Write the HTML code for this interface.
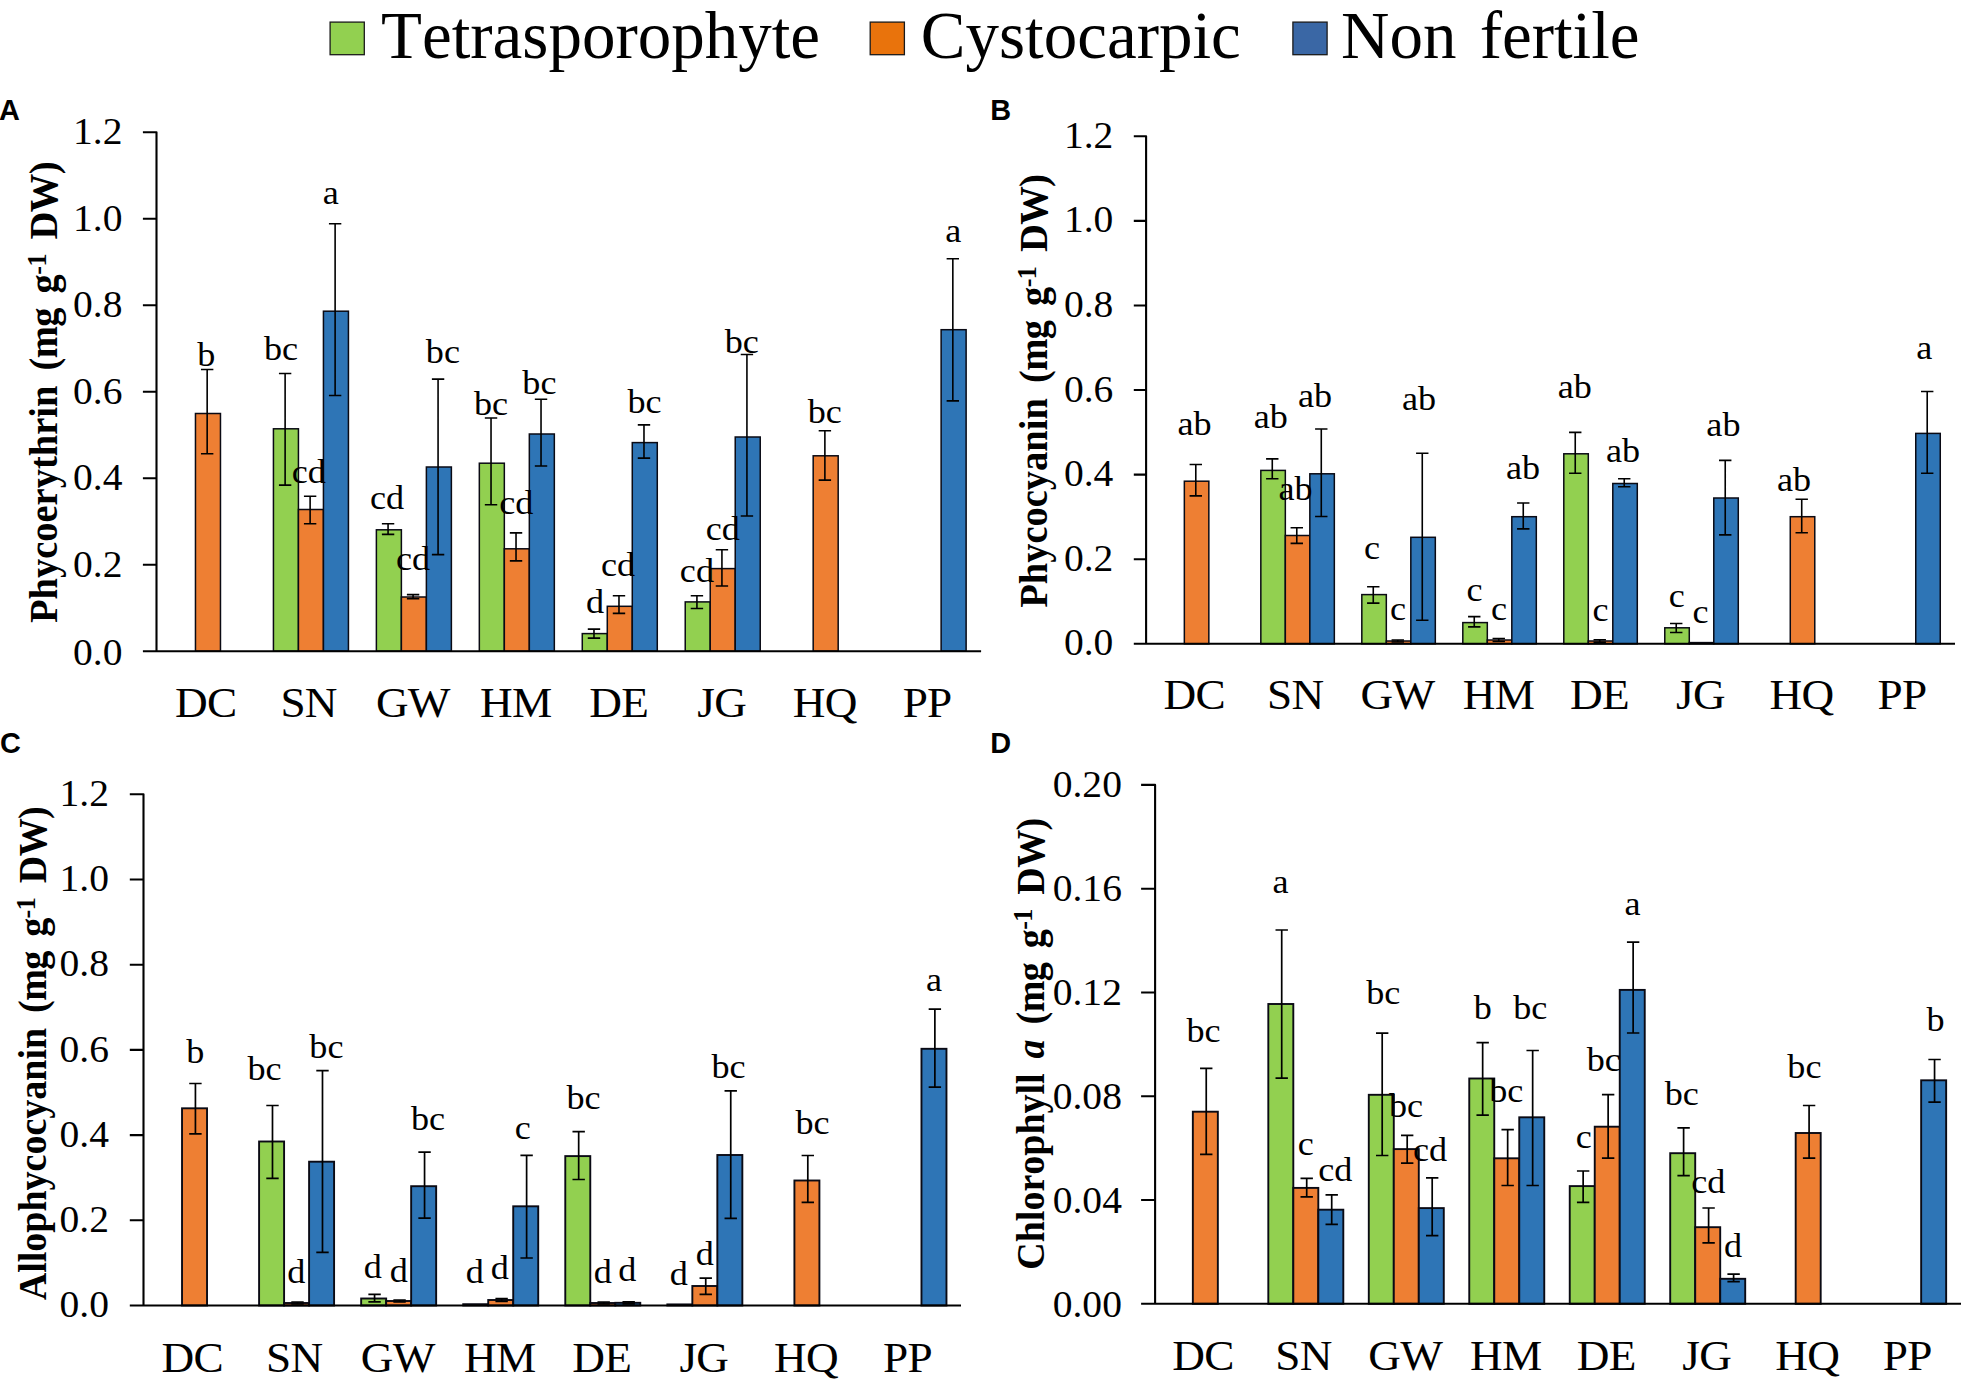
<!DOCTYPE html>
<html lang="en"><head><meta charset="utf-8"><title>Pigment content figure</title>
<style>
html,body{margin:0;padding:0;background:#fff;}
body{width:1961px;height:1394px;overflow:hidden;}
svg{display:block;}
text{fill:#000;font-kerning:none;}
.bar{stroke:#0a0a14;stroke-width:var(--bsw);}
.err{stroke:#000;stroke-width:var(--esw);fill:none;}
.ax{stroke:#000;stroke-width:2.1;fill:none;stroke-linejoin:round;}
.tk{font-family:'Liberation Serif','Times New Roman',serif;font-size:37.3px;text-anchor:end;}
.cat{font-family:'Liberation Serif','Times New Roman',serif;font-size:42.3px;text-anchor:middle;letter-spacing:-0.65px;}
.lt{font-family:'Liberation Serif','Times New Roman',serif;font-size:33.8px;text-anchor:middle;}
.yt{font-family:'Liberation Serif','Times New Roman',serif;font-size:38.5px;font-weight:bold;text-anchor:middle;word-spacing:5.5px;}
.pl{font-family:'Liberation Sans',Arial,sans-serif;font-size:28.9px;font-weight:bold;}
.lg{font-family:'Liberation Serif','Times New Roman',serif;font-size:67px;word-spacing:6.5px;}
.sup{font-size:26.18px;}
</style></head><body>
<svg width="1961" height="1394" viewBox="0 0 1961 1394">
<rect x="0" y="0" width="1961" height="1394" fill="#fff"/>
<g class="legend">
<rect x="330.1" y="22.1" width="34.2" height="32.6" fill="#92d050" stroke="#1a1a1a" stroke-width="1.3"/>
<text class="lg" x="381" y="58.4">Tetrasporophyte</text>
<rect x="870.2" y="22.1" width="34.2" height="32.6" fill="#e9730c" stroke="#1a1a1a" stroke-width="1.3"/>
<text class="lg" x="920.8" y="58.4">Cystocarpic</text>
<rect x="1292.9" y="22.1" width="34.2" height="32.6" fill="#3a67a5" stroke="#1a1a1a" stroke-width="1.3"/>
<text class="lg" x="1341" y="58.4">Non fertile</text>
</g>
<g class="panel" style="--bsw:1.5;--esw:1.6">
<rect class="bar" x="195.47" y="413.5" width="25" height="237.7" fill="#ee7f33"/>
<rect class="bar" x="273.43" y="428.8" width="25" height="222.4" fill="#92d050"/>
<rect class="bar" x="298.43" y="509.5" width="25" height="141.7" fill="#ee7f33"/>
<rect class="bar" x="323.43" y="311.2" width="25" height="340" fill="#2e75b6"/>
<rect class="bar" x="376.38" y="529.8" width="25" height="121.4" fill="#92d050"/>
<rect class="bar" x="401.38" y="597" width="25" height="54.2" fill="#ee7f33"/>
<rect class="bar" x="426.38" y="467" width="25" height="184.2" fill="#2e75b6"/>
<rect class="bar" x="479.33" y="463.2" width="25" height="188" fill="#92d050"/>
<rect class="bar" x="504.33" y="548.8" width="25" height="102.4" fill="#ee7f33"/>
<rect class="bar" x="529.33" y="434" width="25" height="217.2" fill="#2e75b6"/>
<rect class="bar" x="582.28" y="633.6" width="25" height="17.6" fill="#92d050"/>
<rect class="bar" x="607.28" y="606.3" width="25" height="44.9" fill="#ee7f33"/>
<rect class="bar" x="632.28" y="442.6" width="25" height="208.6" fill="#2e75b6"/>
<rect class="bar" x="685.23" y="601.9" width="25" height="49.3" fill="#92d050"/>
<rect class="bar" x="710.23" y="568.6" width="25" height="82.6" fill="#ee7f33"/>
<rect class="bar" x="735.23" y="437" width="25" height="214.2" fill="#2e75b6"/>
<rect class="bar" x="813.18" y="455.8" width="25" height="195.4" fill="#ee7f33"/>
<rect class="bar" x="941.12" y="329.7" width="25" height="321.5" fill="#2e75b6"/>
<path class="err" d="M207.17 369.5V453.7M200.97 369.5H213.37M200.97 453.7H213.37M285.12 373.5V485.1M278.93 373.5H291.32M278.93 485.1H291.32M310.12 496.3V523.7M303.93 496.3H316.32M303.93 523.7H316.32M335.12 223.7V395.5M328.93 223.7H341.32M328.93 395.5H341.32M388.07 523.7V534.4M381.88 523.7H394.27M381.88 534.4H394.27M413.07 594.6V598.8M406.88 594.6H419.27M406.88 598.8H419.27M438.07 379.1V554.6M431.88 379.1H444.27M431.88 554.6H444.27M491.03 418V504.8M484.83 418H497.23M484.83 504.8H497.23M516.03 532.9V560.9M509.83 532.9H522.23M509.83 560.9H522.23M541.03 399.3V466M534.83 399.3H547.23M534.83 466H547.23M593.98 629.1V638.1M587.78 629.1H600.18M587.78 638.1H600.18M618.98 595.7V613.4M612.78 595.7H625.18M612.78 613.4H625.18M643.98 424.9V458.1M637.78 424.9H650.18M637.78 458.1H650.18M696.93 595.7V608.5M690.73 595.7H703.13M690.73 608.5H703.13M721.93 549.7V586M715.73 549.7H728.13M715.73 586H728.13M746.93 354.5V516M740.73 354.5H753.13M740.73 516H753.13M824.88 430.8V480.1M818.68 430.8H831.08M818.68 480.1H831.08M952.83 258.7V400.9M946.62 258.7H959.03M946.62 400.9H959.03"/>
<path class="ax" d="M142.9 132.2H156.5V651.2H981.1M142.9 651.2H156.5M142.9 218.7H156.5M142.9 305.2H156.5M142.9 391.7H156.5M142.9 478.2H156.5M142.9 564.7H156.5"/>
<text class="tk" transform="translate(122.4 144) scale(1.060 1)">1.2</text>
<text class="tk" transform="translate(122.4 230.5) scale(1.060 1)">1.0</text>
<text class="tk" transform="translate(122.4 317) scale(1.060 1)">0.8</text>
<text class="tk" transform="translate(122.4 403.5) scale(1.060 1)">0.6</text>
<text class="tk" transform="translate(122.4 490) scale(1.060 1)">0.4</text>
<text class="tk" transform="translate(122.4 576.5) scale(1.060 1)">0.2</text>
<text class="tk" transform="translate(122.4 664.7) scale(1.060 1)">0.0</text>
<text class="cat" transform="translate(205.67 716.8) scale(1.070 1)">DC</text>
<text class="cat" transform="translate(308.62 716.8) scale(1.070 1)">SN</text>
<text class="cat" transform="translate(412.88 716.8) scale(1.070 1)">GW</text>
<text class="cat" transform="translate(515.83 716.8) scale(1.070 1)">HM</text>
<text class="cat" transform="translate(618.78 716.8) scale(1.070 1)">DE</text>
<text class="cat" transform="translate(721.73 716.8) scale(1.070 1)">JG</text>
<text class="cat" transform="translate(824.68 716.8) scale(1.070 1)">HQ</text>
<text class="cat" transform="translate(927.12 716.8) scale(1.070 1)">PP</text>
<text class="lt" transform="translate(206.4 366.2) scale(1.070 1)">b</text>
<text class="lt" transform="translate(281.1 359.6) scale(1.070 1)">bc</text>
<text class="lt" transform="translate(330.7 204.1) scale(1.070 1)">a</text>
<text class="lt" transform="translate(442.9 363.3) scale(1.070 1)">bc</text>
<text class="lt" transform="translate(491.1 414.9) scale(1.070 1)">bc</text>
<text class="lt" transform="translate(539.4 394.2) scale(1.070 1)">bc</text>
<text class="lt" transform="translate(308.7 482.8) scale(1.070 1)">cd</text>
<text class="lt" transform="translate(387 508.6) scale(1.070 1)">cd</text>
<text class="lt" transform="translate(413 569.9) scale(1.070 1)">cd</text>
<text class="lt" transform="translate(516.3 514.2) scale(1.070 1)">cd</text>
<text class="lt" transform="translate(644.6 412.8) scale(1.070 1)">bc</text>
<text class="lt" transform="translate(741.7 353.3) scale(1.070 1)">bc</text>
<text class="lt" transform="translate(824.8 422.9) scale(1.070 1)">bc</text>
<text class="lt" transform="translate(953.3 242.3) scale(1.070 1)">a</text>
<text class="lt" transform="translate(595 612.5) scale(1.070 1)">d</text>
<text class="lt" transform="translate(618.1 575.9) scale(1.070 1)">cd</text>
<text class="lt" transform="translate(696.9 581.5) scale(1.070 1)">cd</text>
<text class="lt" transform="translate(722.7 540) scale(1.070 1)">cd</text>
<text class="yt" transform="translate(57.2 392.5) rotate(-90) scale(1 1.040)">Phycoerythrin <tspan letter-spacing="-0.55">(mg g<tspan class="sup" dy="-11">-1</tspan><tspan dy="11"> DW)</tspan></tspan></text>
<text class="pl" x="-0.9" y="120.3">A</text>
</g>
<g class="panel" style="--bsw:1.5;--esw:1.6">
<rect class="bar" x="1184.34" y="481.2" width="24.5" height="162.6" fill="#ee7f33"/>
<rect class="bar" x="1260.83" y="470.4" width="24.5" height="173.4" fill="#92d050"/>
<rect class="bar" x="1285.33" y="535.5" width="24.5" height="108.3" fill="#ee7f33"/>
<rect class="bar" x="1309.83" y="473.8" width="24.5" height="170" fill="#2e75b6"/>
<rect class="bar" x="1361.82" y="594.6" width="24.5" height="49.2" fill="#92d050"/>
<rect class="bar" x="1386.32" y="641" width="24.5" height="2.8" fill="#ee7f33"/>
<rect class="bar" x="1410.82" y="537.3" width="24.5" height="106.5" fill="#2e75b6"/>
<rect class="bar" x="1462.81" y="622.6" width="24.5" height="21.2" fill="#92d050"/>
<rect class="bar" x="1487.31" y="640" width="24.5" height="3.8" fill="#ee7f33"/>
<rect class="bar" x="1511.81" y="516.7" width="24.5" height="127.1" fill="#2e75b6"/>
<rect class="bar" x="1563.79" y="453.8" width="24.5" height="190" fill="#92d050"/>
<rect class="bar" x="1588.29" y="641" width="24.5" height="2.8" fill="#ee7f33"/>
<rect class="bar" x="1612.79" y="483.5" width="24.5" height="160.3" fill="#2e75b6"/>
<rect class="bar" x="1664.78" y="627.8" width="24.5" height="16" fill="#92d050"/>
<rect class="bar" x="1689.28" y="642.6" width="24.5" height="1.2" fill="#ee7f33"/>
<rect class="bar" x="1713.78" y="498" width="24.5" height="145.8" fill="#2e75b6"/>
<rect class="bar" x="1790.27" y="516.7" width="24.5" height="127.1" fill="#ee7f33"/>
<rect class="bar" x="1915.76" y="433.4" width="24.5" height="210.4" fill="#2e75b6"/>
<path class="err" d="M1195.79 464.5V495.9M1189.59 464.5H1201.99M1189.59 495.9H1201.99M1272.28 458.9V478.8M1266.08 458.9H1278.48M1266.08 478.8H1278.48M1296.78 527.7V543.4M1290.58 527.7H1302.98M1290.58 543.4H1302.98M1321.28 429V516.5M1315.08 429H1327.48M1315.08 516.5H1327.48M1373.27 586.8V603.1M1367.07 586.8H1379.47M1367.07 603.1H1379.47M1397.77 640V642M1391.57 640H1403.97M1391.57 642H1403.97M1422.27 453.2V620.2M1416.07 453.2H1428.47M1416.07 620.2H1428.47M1474.26 616.6V626.9M1468.06 616.6H1480.46M1468.06 626.9H1480.46M1498.76 638.5V641.5M1492.56 638.5H1504.96M1492.56 641.5H1504.96M1523.26 503V528.9M1517.06 503H1529.46M1517.06 528.9H1529.46M1575.24 432.4V473.2M1569.04 432.4H1581.44M1569.04 473.2H1581.44M1599.74 639.8V642.2M1593.54 639.8H1605.94M1593.54 642.2H1605.94M1624.24 478.8V486.7M1618.04 478.8H1630.44M1618.04 486.7H1630.44M1676.23 623.5V632.5M1670.03 623.5H1682.43M1670.03 632.5H1682.43M1725.23 460.4V534.9M1719.03 460.4H1731.43M1719.03 534.9H1731.43M1801.72 499.2V532.7M1795.52 499.2H1807.92M1795.52 532.7H1807.92M1927.21 391.5V473.2M1921.01 391.5H1933.41M1921.01 473.2H1933.41"/>
<path class="ax" d="M1133.8 136.3H1146.1V643.8H1955M1133.8 643.8H1146.1M1133.8 220.88H1146.1M1133.8 305.46H1146.1M1133.8 390.04H1146.1M1133.8 474.62H1146.1M1133.8 559.2H1146.1"/>
<text class="tk" transform="translate(1113.3 147.9) scale(1.060 1)">1.2</text>
<text class="tk" transform="translate(1113.3 232.48) scale(1.060 1)">1.0</text>
<text class="tk" transform="translate(1113.3 317.06) scale(1.060 1)">0.8</text>
<text class="tk" transform="translate(1113.3 401.64) scale(1.060 1)">0.6</text>
<text class="tk" transform="translate(1113.3 486.22) scale(1.060 1)">0.4</text>
<text class="tk" transform="translate(1113.3 570.8) scale(1.060 1)">0.2</text>
<text class="tk" transform="translate(1113.3 655.38) scale(1.060 1)">0.0</text>
<text class="cat" transform="translate(1194.29 709.4) scale(1.070 1)">DC</text>
<text class="cat" transform="translate(1295.28 709.4) scale(1.070 1)">SN</text>
<text class="cat" transform="translate(1397.57 709.4) scale(1.070 1)">GW</text>
<text class="cat" transform="translate(1498.56 709.4) scale(1.070 1)">HM</text>
<text class="cat" transform="translate(1599.54 709.4) scale(1.070 1)">DE</text>
<text class="cat" transform="translate(1700.53 709.4) scale(1.070 1)">JG</text>
<text class="cat" transform="translate(1801.52 709.4) scale(1.070 1)">HQ</text>
<text class="cat" transform="translate(1902.01 709.4) scale(1.070 1)">PP</text>
<text class="lt" transform="translate(1194.6 435.3) scale(1.070 1)">ab</text>
<text class="lt" transform="translate(1270.7 427.9) scale(1.070 1)">ab</text>
<text class="lt" transform="translate(1315.1 407) scale(1.070 1)">ab</text>
<text class="lt" transform="translate(1295.6 499.7) scale(1.070 1)">ab</text>
<text class="lt" transform="translate(1419 410.4) scale(1.070 1)">ab</text>
<text class="lt" transform="translate(1371.9 558.5) scale(1.070 1)">c</text>
<text class="lt" transform="translate(1523.1 479) scale(1.070 1)">ab</text>
<text class="lt" transform="translate(1474.6 600.7) scale(1.070 1)">c</text>
<text class="lt" transform="translate(1397.9 619.5) scale(1.070 1)">c</text>
<text class="lt" transform="translate(1498.9 619.5) scale(1.070 1)">c</text>
<text class="lt" transform="translate(1574.8 397.6) scale(1.070 1)">ab</text>
<text class="lt" transform="translate(1623.1 462) scale(1.070 1)">ab</text>
<text class="lt" transform="translate(1723.4 436.2) scale(1.070 1)">ab</text>
<text class="lt" transform="translate(1794.1 490.7) scale(1.070 1)">ab</text>
<text class="lt" transform="translate(1924.2 358.8) scale(1.070 1)">a</text>
<text class="lt" transform="translate(1600.4 620.6) scale(1.070 1)">c</text>
<text class="lt" transform="translate(1676.7 606.5) scale(1.070 1)">c</text>
<text class="lt" transform="translate(1700.5 622.9) scale(1.070 1)">c</text>
<text class="yt" transform="translate(1047.3 391.2) rotate(-90) scale(1 1.040)">Phycocyanin <tspan letter-spacing="-0.55">(mg g<tspan class="sup" dy="-11">-1</tspan><tspan dy="11"> DW)</tspan></tspan></text>
<text class="pl" x="990.3" y="120.3">B</text>
</g>
<g class="panel" style="--bsw:1.9;--esw:1.7">
<rect class="bar" x="182.03" y="1108.3" width="25" height="197.2" fill="#ee7f33"/>
<rect class="bar" x="259.09" y="1141.5" width="25" height="164" fill="#92d050"/>
<rect class="bar" x="284.09" y="1303" width="25" height="2.5" fill="#ee7f33"/>
<rect class="bar" x="309.09" y="1161.7" width="25" height="143.8" fill="#2e75b6"/>
<rect class="bar" x="361.16" y="1298.5" width="25" height="7" fill="#92d050"/>
<rect class="bar" x="386.16" y="1301" width="25" height="4.5" fill="#ee7f33"/>
<rect class="bar" x="411.16" y="1186.2" width="25" height="119.3" fill="#2e75b6"/>
<rect class="bar" x="463.22" y="1304.2" width="25" height="1.3" fill="#92d050"/>
<rect class="bar" x="488.22" y="1300" width="25" height="5.5" fill="#ee7f33"/>
<rect class="bar" x="513.22" y="1206.3" width="25" height="99.2" fill="#2e75b6"/>
<rect class="bar" x="565.28" y="1156.1" width="25" height="149.4" fill="#92d050"/>
<rect class="bar" x="590.28" y="1303" width="25" height="2.5" fill="#ee7f33"/>
<rect class="bar" x="615.28" y="1302.8" width="25" height="2.7" fill="#2e75b6"/>
<rect class="bar" x="667.34" y="1304.4" width="25" height="1.1" fill="#92d050"/>
<rect class="bar" x="692.34" y="1286" width="25" height="19.5" fill="#ee7f33"/>
<rect class="bar" x="717.34" y="1155" width="25" height="150.5" fill="#2e75b6"/>
<rect class="bar" x="794.41" y="1180.5" width="25" height="125" fill="#ee7f33"/>
<rect class="bar" x="921.47" y="1048.8" width="25" height="256.7" fill="#2e75b6"/>
<path class="err" d="M195.43 1083.5V1133.9M189.23 1083.5H201.63M189.23 1133.9H201.63M272.49 1105.5V1178.4M266.29 1105.5H278.69M266.29 1178.4H278.69M297.49 1302V1304M291.29 1302H303.69M291.29 1304H303.69M322.49 1070.7V1252.4M316.29 1070.7H328.69M316.29 1252.4H328.69M374.56 1294.4V1301.8M368.36 1294.4H380.76M368.36 1301.8H380.76M399.56 1300V1302M393.36 1300H405.76M393.36 1302H405.76M424.56 1152.1V1218.1M418.36 1152.1H430.76M418.36 1218.1H430.76M501.62 1298.6V1301.4M495.42 1298.6H507.82M495.42 1301.4H507.82M526.62 1155.3V1258M520.42 1155.3H532.82M520.42 1258H532.82M578.68 1131.7V1179.5M572.48 1131.7H584.88M572.48 1179.5H584.88M603.68 1302V1304M597.48 1302H609.88M597.48 1304H609.88M628.68 1301.8V1303.8M622.48 1301.8H634.88M622.48 1303.8H634.88M705.74 1278.2V1294.4M699.54 1278.2H711.94M699.54 1294.4H711.94M730.74 1090.9V1218.3M724.54 1090.9H736.94M724.54 1218.3H736.94M807.81 1155.5V1202.4M801.61 1155.5H814.01M801.61 1202.4H814.01M934.87 1009.2V1087.1M928.67 1009.2H941.07M928.67 1087.1H941.07"/>
<path class="ax" d="M129.8 794.3H143.5V1305.5H961M129.8 1305.5H143.5M129.8 879.5H143.5M129.8 964.7H143.5M129.8 1049.9H143.5M129.8 1135.1H143.5M129.8 1220.3H143.5"/>
<text class="tk" transform="translate(109 806) scale(1.060 1)">1.2</text>
<text class="tk" transform="translate(109 891.2) scale(1.060 1)">1.0</text>
<text class="tk" transform="translate(109 976.4) scale(1.060 1)">0.8</text>
<text class="tk" transform="translate(109 1061.6) scale(1.060 1)">0.6</text>
<text class="tk" transform="translate(109 1146.8) scale(1.060 1)">0.4</text>
<text class="tk" transform="translate(109 1232) scale(1.060 1)">0.2</text>
<text class="tk" transform="translate(109 1317.2) scale(1.060 1)">0.0</text>
<text class="cat" transform="translate(192.23 1371.5) scale(1.070 1)">DC</text>
<text class="cat" transform="translate(294.29 1371.5) scale(1.070 1)">SN</text>
<text class="cat" transform="translate(397.66 1371.5) scale(1.070 1)">GW</text>
<text class="cat" transform="translate(499.72 1371.5) scale(1.070 1)">HM</text>
<text class="cat" transform="translate(601.78 1371.5) scale(1.070 1)">DE</text>
<text class="cat" transform="translate(703.84 1371.5) scale(1.070 1)">JG</text>
<text class="cat" transform="translate(805.91 1371.5) scale(1.070 1)">HQ</text>
<text class="cat" transform="translate(907.47 1371.5) scale(1.070 1)">PP</text>
<text class="lt" transform="translate(195.4 1062.8) scale(1.070 1)">b</text>
<text class="lt" transform="translate(264.5 1079.6) scale(1.070 1)">bc</text>
<text class="lt" transform="translate(326.4 1057.9) scale(1.070 1)">bc</text>
<text class="lt" transform="translate(296.4 1283.2) scale(1.070 1)">d</text>
<text class="lt" transform="translate(428.1 1129.7) scale(1.070 1)">bc</text>
<text class="lt" transform="translate(372.9 1278.2) scale(1.070 1)">d</text>
<text class="lt" transform="translate(398.9 1281.6) scale(1.070 1)">d</text>
<text class="lt" transform="translate(522.7 1139.1) scale(1.070 1)">c</text>
<text class="lt" transform="translate(474.7 1283.2) scale(1.070 1)">d</text>
<text class="lt" transform="translate(499.9 1279.3) scale(1.070 1)">d</text>
<text class="lt" transform="translate(583.5 1109.3) scale(1.070 1)">bc</text>
<text class="lt" transform="translate(602.8 1282.7) scale(1.070 1)">d</text>
<text class="lt" transform="translate(627.3 1280.9) scale(1.070 1)">d</text>
<text class="lt" transform="translate(678.9 1285.4) scale(1.070 1)">d</text>
<text class="lt" transform="translate(704.7 1264.8) scale(1.070 1)">d</text>
<text class="lt" transform="translate(728.5 1077.9) scale(1.070 1)">bc</text>
<text class="lt" transform="translate(812.6 1133.5) scale(1.070 1)">bc</text>
<text class="lt" transform="translate(934 991.1) scale(1.070 1)">a</text>
<text class="yt" style="font-size:38px" transform="translate(46 1053.5) rotate(-90) scale(1 1.040)">Allophycocyanin <tspan letter-spacing="-0.55">(mg g<tspan class="sup" dy="-11">-1</tspan><tspan dy="11"> DW)</tspan></tspan></text>
<text class="pl" x="-0.1" y="753.3">C</text>
</g>
<g class="panel" style="--bsw:1.9;--esw:1.7">
<rect class="bar" x="1192.84" y="1111.7" width="25" height="192.1" fill="#ee7f33"/>
<rect class="bar" x="1268.31" y="1004" width="25" height="299.8" fill="#92d050"/>
<rect class="bar" x="1293.31" y="1187.9" width="25" height="115.9" fill="#ee7f33"/>
<rect class="bar" x="1318.31" y="1209.7" width="25" height="94.1" fill="#2e75b6"/>
<rect class="bar" x="1368.79" y="1094.8" width="25" height="209" fill="#92d050"/>
<rect class="bar" x="1393.79" y="1149.1" width="25" height="154.7" fill="#ee7f33"/>
<rect class="bar" x="1418.79" y="1208.1" width="25" height="95.7" fill="#2e75b6"/>
<rect class="bar" x="1469.26" y="1078.5" width="25" height="225.3" fill="#92d050"/>
<rect class="bar" x="1494.26" y="1158.3" width="25" height="145.5" fill="#ee7f33"/>
<rect class="bar" x="1519.26" y="1117.3" width="25" height="186.5" fill="#2e75b6"/>
<rect class="bar" x="1569.74" y="1186.1" width="25" height="117.7" fill="#92d050"/>
<rect class="bar" x="1594.74" y="1126.7" width="25" height="177.1" fill="#ee7f33"/>
<rect class="bar" x="1619.74" y="989.9" width="25" height="313.9" fill="#2e75b6"/>
<rect class="bar" x="1670.21" y="1153.2" width="25" height="150.6" fill="#92d050"/>
<rect class="bar" x="1695.21" y="1227.2" width="25" height="76.6" fill="#ee7f33"/>
<rect class="bar" x="1720.21" y="1278.8" width="25" height="25" fill="#2e75b6"/>
<rect class="bar" x="1795.69" y="1133" width="25" height="170.8" fill="#ee7f33"/>
<rect class="bar" x="1921.16" y="1080.3" width="25" height="223.5" fill="#2e75b6"/>
<path class="err" d="M1206.24 1068.4V1154.4M1200.04 1068.4H1212.44M1200.04 1154.4H1212.44M1281.71 930V1078.1M1275.51 930H1287.91M1275.51 1078.1H1287.91M1306.71 1178.4V1196.8M1300.51 1178.4H1312.91M1300.51 1196.8H1312.91M1331.71 1194.8V1224.4M1325.51 1194.8H1337.91M1325.51 1224.4H1337.91M1382.19 1033.2V1155.5M1375.99 1033.2H1388.39M1375.99 1155.5H1388.39M1407.19 1135.3V1163.1M1400.99 1135.3H1413.39M1400.99 1163.1H1413.39M1432.19 1177.9V1235.6M1425.99 1177.9H1438.39M1425.99 1235.6H1438.39M1482.66 1042.6V1115.1M1476.46 1042.6H1488.86M1476.46 1115.1H1488.86M1507.66 1129.7V1185.5M1501.46 1129.7H1513.86M1501.46 1185.5H1513.86M1532.66 1050.5V1185.5M1526.46 1050.5H1538.86M1526.46 1185.5H1538.86M1583.14 1171V1202.4M1576.94 1171H1589.34M1576.94 1202.4H1589.34M1608.14 1094.7V1158.2M1601.94 1094.7H1614.34M1601.94 1158.2H1614.34M1633.14 942.2V1033M1626.94 942.2H1639.34M1626.94 1033H1639.34M1683.61 1127.9V1175.7M1677.41 1127.9H1689.81M1677.41 1175.7H1689.81M1708.61 1208V1242.8M1702.41 1208H1714.81M1702.41 1242.8H1714.81M1733.61 1274.2V1281.6M1727.41 1274.2H1739.81M1727.41 1281.6H1739.81M1809.09 1105.5V1158.2M1802.89 1105.5H1815.29M1802.89 1158.2H1815.29M1934.56 1059.5V1102.1M1928.36 1059.5H1940.76M1928.36 1102.1H1940.76"/>
<path class="ax" d="M1141.1 784.9H1155.1V1303.8H1962M1141.1 1303.8H1155.1M1141.1 888.68H1155.1M1141.1 992.46H1155.1M1141.1 1096.24H1155.1M1141.1 1200.02H1155.1"/>
<text class="tk" transform="translate(1121.9 796.8) scale(1.060 1)">0.20</text>
<text class="tk" transform="translate(1121.9 900.88) scale(1.060 1)">0.16</text>
<text class="tk" transform="translate(1121.9 1004.96) scale(1.060 1)">0.12</text>
<text class="tk" transform="translate(1121.9 1109.04) scale(1.060 1)">0.08</text>
<text class="tk" transform="translate(1121.9 1213.32) scale(1.060 1)">0.04</text>
<text class="tk" transform="translate(1121.9 1317.2) scale(1.060 1)">0.00</text>
<text class="cat" transform="translate(1203.04 1369.5) scale(1.070 1)">DC</text>
<text class="cat" transform="translate(1303.51 1369.5) scale(1.070 1)">SN</text>
<text class="cat" transform="translate(1405.29 1369.5) scale(1.070 1)">GW</text>
<text class="cat" transform="translate(1505.76 1369.5) scale(1.070 1)">HM</text>
<text class="cat" transform="translate(1606.24 1369.5) scale(1.070 1)">DE</text>
<text class="cat" transform="translate(1706.71 1369.5) scale(1.070 1)">JG</text>
<text class="cat" transform="translate(1807.19 1369.5) scale(1.070 1)">HQ</text>
<text class="cat" transform="translate(1907.16 1369.5) scale(1.070 1)">PP</text>
<text class="lt" transform="translate(1280.6 893.2) scale(1.070 1)">a</text>
<text class="lt" transform="translate(1383.2 1004.1) scale(1.070 1)">bc</text>
<text class="lt" transform="translate(1203.5 1041.6) scale(1.070 1)">bc</text>
<text class="lt" transform="translate(1305.7 1154.8) scale(1.070 1)">c</text>
<text class="lt" transform="translate(1335.3 1180.6) scale(1.070 1)">cd</text>
<text class="lt" transform="translate(1406 1116.7) scale(1.070 1)">bc</text>
<text class="lt" transform="translate(1430 1161.1) scale(1.070 1)">cd</text>
<text class="lt" transform="translate(1482.9 1018.8) scale(1.070 1)">b</text>
<text class="lt" transform="translate(1530.3 1018.8) scale(1.070 1)">bc</text>
<text class="lt" transform="translate(1506.3 1102.1) scale(1.070 1)">bc</text>
<text class="lt" transform="translate(1632.6 915.3) scale(1.070 1)">a</text>
<text class="lt" transform="translate(1603.7 1071.2) scale(1.070 1)">bc</text>
<text class="lt" transform="translate(1681.8 1104.8) scale(1.070 1)">bc</text>
<text class="lt" transform="translate(1804.4 1078.2) scale(1.070 1)">bc</text>
<text class="lt" transform="translate(1583.8 1148.1) scale(1.070 1)">c</text>
<text class="lt" transform="translate(1708.3 1193) scale(1.070 1)">cd</text>
<text class="lt" transform="translate(1733 1256.9) scale(1.070 1)">d</text>
<text class="lt" transform="translate(1935.6 1031.4) scale(1.070 1)">b</text>
<text class="yt" style="font-size:38px" transform="translate(1043.9 1044) rotate(-90) scale(1 1.040)">Chlorophyll <tspan font-style="italic">a</tspan> <tspan letter-spacing="-0.55">(mg g<tspan class="sup" dy="-11">-1</tspan><tspan dy="11"> DW)</tspan></tspan></text>
<text class="pl" x="990.3" y="753.3">D</text>
</g>
</svg>
</body></html>
